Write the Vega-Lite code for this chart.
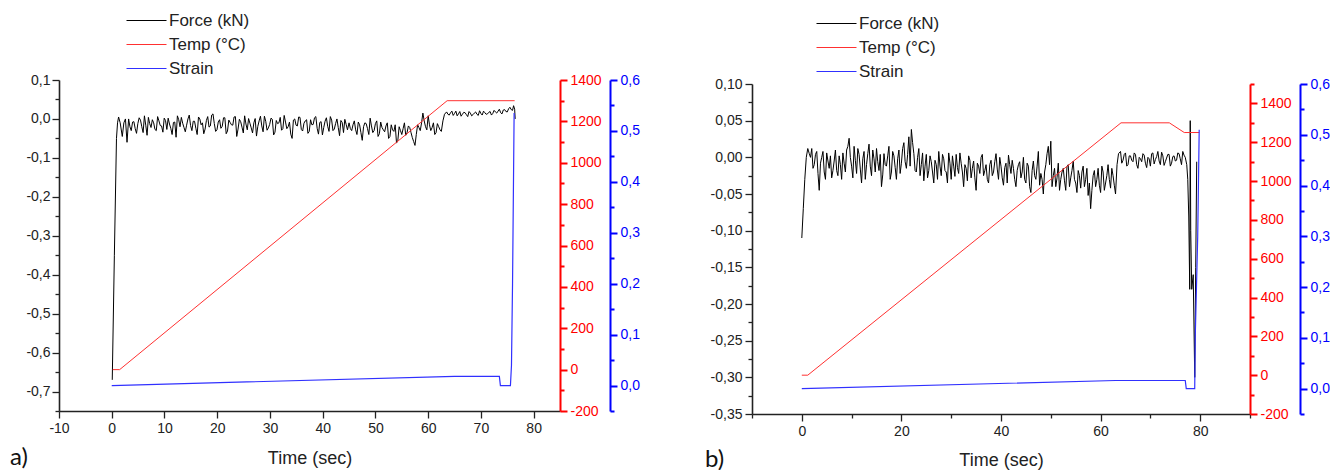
{
  "$schema": "https://vega.github.io/schema/vega-lite/v6.json",
  "background": "white",
  "padding": {"left": 10, "top": 12, "right": 0, "bottom": 0},
  "bounds": "flush",
  "spacing": 192,
  "config": {
    "view": {"stroke": null},
    "font": "Liberation Sans",
    "axis": {
      "grid": false,
      "labelFont": "Liberation Sans",
      "labelFontSize": 14,
      "labelColor": "#222222",
      "titleFont": "Liberation Sans",
      "titleFontSize": 18,
      "titleFontWeight": "normal",
      "titleColor": "#222222",
      "domainColor": "#222222",
      "tickColor": "#222222",
      "domainWidth": 1.6,
      "tickWidth": 1.3
    }
  },
  "resolve": {"scale": {"color": "independent"}, "legend": {"color": "independent"}},
  "datasets": {
    "fa": [
      {"t":0.1,"f":-0.67},{"t":0.5,"f":-0.35},{"t":0.9,"f":-0.05},{"t":1.1,"f":-0.01},{"t":1.3,"f":0.005},{"t":1.6,"f":-0.01},{"t":2.0,"f":-0.045},{"t":2.3,"f":-0.01},{"t":2.6,"f":0.0},{"t":2.9,"f":-0.06},
      {"t":3.2,"f":0.0},{"t":3.7,"f":-0.03},{"t":4.2,"f":-0.007},{"t":4.7,"f":-0.037},{"t":5.2,"f":0.003},{"t":5.7,"f":-0.02},{"t":6.2,"f":0.008},{"t":6.7,"f":-0.042},{"t":7.2,"f":-0.012},{"t":7.7,"f":-0.002},
      {"t":8.2,"f":-0.027},{"t":8.7,"f":0.006},{"t":9.2,"f":-0.017},{"t":9.7,"f":-0.034},{"t":10.2,"f":-0.004},{"t":10.7,"f":0.002},{"t":11.2,"f":-0.024},{"t":11.7,"f":-0.009},{"t":12.2,"f":-0.047},{"t":12.7,"f":-0.002},
      {"t":13.2,"f":0.004},{"t":13.7,"f":-0.022},{"t":14.2,"f":-0.016},{"t":14.7,"f":0.01},{"t":15.2,"f":-0.03},{"t":15.7,"f":-0.006},{"t":16.2,"f":-0.04},{"t":16.7,"f":0.0},{"t":17.2,"f":-0.01},{"t":17.7,"f":-0.026},
      {"t":18.2,"f":0.006},{"t":18.7,"f":-0.018},{"t":19.2,"f":0.013},{"t":19.7,"f":-0.032},{"t":20.2,"f":-0.008},{"t":20.7,"f":-0.024},{"t":21.2,"f":0.003},{"t":21.7,"f":-0.038},{"t":22.2,"f":-0.003},{"t":22.7,"f":-0.015},
      {"t":23.2,"f":0.005},{"t":23.7,"f":-0.045},{"t":24.2,"f":-0.001},{"t":24.7,"f":-0.021},{"t":25.2,"f":0.008},{"t":25.7,"f":-0.028},{"t":26.2,"f":-0.011},{"t":26.7,"f":-0.036},{"t":27.2,"f":0.001},{"t":27.7,"f":-0.019},
      {"t":28.2,"f":0.007},{"t":28.7,"f":-0.033},{"t":29.2,"f":-0.006},{"t":29.7,"f":-0.023},{"t":30.2,"f":0.002},{"t":30.7,"f":-0.041},{"t":31.2,"f":-0.004},{"t":31.7,"f":-0.01},{"t":32.2,"f":-0.029},{"t":32.7,"f":0.009},
      {"t":33.2,"f":-0.025},{"t":33.7,"f":-0.008},{"t":34.2,"f":-0.05},{"t":34.7,"f":0.0},{"t":35.2,"f":-0.018},{"t":35.7,"f":0.004},{"t":36.2,"f":-0.031},{"t":36.7,"f":-0.005},{"t":37.2,"f":-0.037},{"t":37.7,"f":-0.002},
      {"t":38.2,"f":-0.014},{"t":38.7,"f":0.006},{"t":39.2,"f":-0.039},{"t":39.7,"f":-0.007},{"t":40.2,"f":-0.022},{"t":40.7,"f":0.003},{"t":41.2,"f":-0.032},{"t":41.7,"f":-0.003},{"t":42.2,"f":-0.026},{"t":42.7,"f":0.0},
      {"t":43.2,"f":-0.043},{"t":43.7,"f":-0.009},{"t":44.2,"f":-0.001},{"t":44.7,"f":-0.028},
      {"t":45.0,"f":-0.01},{"t":45.5,"f":-0.03},{"t":46.0,"f":-0.005},{"t":46.5,"f":-0.04},{"t":47.0,"f":-0.015},{"t":47.5,"f":-0.055},{"t":48.0,"f":-0.01},{"t":48.5,"f":-0.025},{"t":49.0,"f":0.002},{"t":49.5,"f":-0.035},
      {"t":50.0,"f":-0.012},{"t":50.5,"f":-0.045},{"t":51.0,"f":-0.008},{"t":51.5,"f":-0.028},{"t":52.0,"f":-0.018},{"t":52.5,"f":-0.05},{"t":53.0,"f":-0.015},{"t":53.5,"f":-0.032},{"t":54.0,"f":-0.062},{"t":54.5,"f":-0.02},
      {"t":55.0,"f":-0.04},{"t":55.5,"f":-0.01},{"t":56.0,"f":-0.035},{"t":56.5,"f":-0.022},{"t":57.0,"f":-0.048},{"t":57.5,"f":-0.068},{"t":58.0,"f":-0.015},{"t":58.5,"f":-0.03},{"t":59.0,"f":0.015},{"t":59.5,"f":-0.02},
      {"t":60.0,"f":0.008},{"t":60.5,"f":-0.03},{"t":61.0,"f":-0.01},{"t":61.5,"f":-0.035},{"t":62.0,"f":-0.02},{"t":62.5,"f":-0.032},{"t":62.8,"f":-0.005},{"t":63.1,"f":0.012},
      {"t":63.5,"f":0.018},{"t":64.0,"f":0.01},{"t":64.5,"f":0.02},{"t":65.0,"f":0.014},{"t":65.5,"f":0.008},{"t":66.0,"f":0.019},{"t":66.5,"f":0.012},{"t":67.0,"f":0.016},{"t":67.5,"f":0.006},{"t":68.0,"f":0.015},
      {"t":68.5,"f":0.011},{"t":69.0,"f":0.018},{"t":69.5,"f":0.009},{"t":70.0,"f":0.014},{"t":70.5,"f":0.02},{"t":71.0,"f":0.012},{"t":71.5,"f":0.017},{"t":72.0,"f":0.01},{"t":72.5,"f":0.022},{"t":73.0,"f":0.015},
      {"t":73.5,"f":0.025},{"t":74.0,"f":0.013},{"t":74.5,"f":0.024},{"t":75.0,"f":0.018},{"t":75.5,"f":0.03},{"t":76.0,"f":0.022},{"t":76.2,"f":0.034},{"t":76.4,"f":0.025},{"t":76.5,"f":0.0},
      {"t":3.45,"f":-0.02},{"t":3.95,"f":-0.008},{"t":4.45,"f":-0.025},{"t":4.95,"f":-0.012},{"t":5.45,"f":-0.003},{"t":5.95,"f":-0.035},{"t":6.45,"f":-0.016},{"t":6.95,"f":0.004},{"t":7.45,"f":-0.022},{"t":7.95,"f":-0.01},
      {"t":8.45,"f":-0.03},{"t":8.95,"f":-0.005},{"t":9.45,"f":-0.018},{"t":9.95,"f":0.002},{"t":10.45,"f":-0.027},{"t":10.95,"f":-0.013},{"t":11.45,"f":-0.04},{"t":11.95,"f":-0.008},{"t":12.45,"f":0.008},{"t":12.95,"f":-0.02},
      {"t":13.45,"f":-0.011},{"t":13.95,"f":-0.033},{"t":14.45,"f":0.0},{"t":14.95,"f":-0.017},{"t":15.45,"f":-0.006},{"t":15.95,"f":-0.024},{"t":16.45,"f":0.005},{"t":16.95,"f":-0.015},{"t":17.45,"f":-0.038},{"t":17.95,"f":-0.004},
      {"t":18.45,"f":-0.021},{"t":18.95,"f":0.01},{"t":19.45,"f":-0.012},{"t":19.95,"f":-0.028},{"t":20.45,"f":-0.002},{"t":20.95,"f":-0.019},{"t":21.45,"f":0.003},{"t":21.95,"f":-0.031},{"t":22.45,"f":-0.009},{"t":22.95,"f":-0.016},
      {"t":23.45,"f":0.006},{"t":23.95,"f":-0.026},{"t":24.45,"f":-0.007},{"t":24.95,"f":-0.036},{"t":25.45,"f":-0.013},{"t":25.95,"f":0.001},{"t":26.45,"f":-0.023},{"t":26.95,"f":-0.01},{"t":27.45,"f":-0.044},{"t":27.95,"f":-0.005},
      {"t":28.45,"f":-0.018},{"t":28.95,"f":0.007},{"t":29.45,"f":-0.029},{"t":29.95,"f":-0.014},{"t":30.45,"f":-0.001},{"t":30.95,"f":-0.034},{"t":31.45,"f":-0.012},{"t":31.95,"f":0.004},{"t":32.45,"f":-0.025},{"t":32.95,"f":-0.008},
      {"t":33.45,"f":-0.02},{"t":33.95,"f":-0.039},{"t":34.45,"f":-0.003},{"t":34.95,"f":-0.016},{"t":35.45,"f":0.005},{"t":35.95,"f":-0.027},{"t":36.45,"f":-0.011},{"t":36.95,"f":-0.002},{"t":37.45,"f":-0.032},{"t":37.95,"f":-0.015},
      {"t":38.45,"f":0.003},{"t":38.95,"f":-0.024},{"t":39.45,"f":-0.009},{"t":39.95,"f":-0.041},{"t":40.45,"f":-0.006},{"t":40.95,"f":-0.019},{"t":41.45,"f":0.006},{"t":41.95,"f":-0.03},{"t":42.45,"f":-0.012},{"t":42.95,"f":-0.022},
      {"t":43.45,"f":-0.004},{"t":43.95,"f":-0.035},{"t":44.45,"f":-0.014},
      {"t":45.25,"f":-0.025},{"t":45.75,"f":-0.015},{"t":46.25,"f":-0.028},{"t":46.75,"f":-0.008},{"t":47.25,"f":-0.035},{"t":47.75,"f":-0.02},{"t":48.25,"f":-0.012},{"t":48.75,"f":-0.04},{"t":49.25,"f":-0.018},{"t":49.75,"f":-0.03},
      {"t":50.25,"f":-0.005},{"t":50.75,"f":-0.038},{"t":51.25,"f":-0.022},{"t":51.75,"f":-0.033},{"t":52.25,"f":-0.01},{"t":52.75,"f":-0.045},{"t":53.25,"f":-0.028},{"t":53.75,"f":-0.015},{"t":54.25,"f":-0.055},{"t":54.75,"f":-0.03},
      {"t":55.25,"f":-0.025},{"t":55.75,"f":-0.042},{"t":56.25,"f":-0.018},{"t":56.75,"f":-0.035},{"t":57.25,"f":-0.058},{"t":57.75,"f":-0.04},{"t":58.25,"f":-0.022},{"t":58.75,"f":-0.01},{"t":59.25,"f":-0.005},{"t":59.75,"f":-0.028},
      {"t":60.25,"f":-0.015},{"t":60.75,"f":-0.022},{"t":61.25,"f":-0.04},{"t":61.75,"f":-0.012},{"t":62.25,"f":-0.028},
      {"t":63.75,"f":0.012},{"t":64.25,"f":0.016},{"t":64.75,"f":0.009},{"t":65.25,"f":0.02},{"t":65.75,"f":0.013},{"t":66.25,"f":0.007},{"t":66.75,"f":0.017},{"t":67.25,"f":0.011},{"t":67.75,"f":0.019},{"t":68.25,"f":0.008},
      {"t":68.75,"f":0.015},{"t":69.25,"f":0.012},{"t":69.75,"f":0.021},{"t":70.25,"f":0.01},{"t":70.75,"f":0.016},{"t":71.25,"f":0.013},{"t":71.75,"f":0.019},{"t":72.25,"f":0.014},{"t":72.75,"f":0.018},{"t":73.25,"f":0.02},
      {"t":73.75,"f":0.016},{"t":74.25,"f":0.023},{"t":74.75,"f":0.019},{"t":75.25,"f":0.026},{"t":75.75,"f":0.024}
    ],
    "ta": [{"t":0.2,"v":0},{"t":1.5,"v":0},{"t":63.6,"v":1300},{"t":76.4,"v":1300}],
    "sa": [{"t":0,"v":0},{"t":65,"v":0.018},{"t":73.5,"v":0.018},{"t":73.7,"v":0.0},{"t":75.6,"v":0.0},{"t":75.8,"v":0.04},{"t":76.0,"v":0.2},{"t":76.3,"v":0.535}],
    "fb": [
      {"t":0,"f":-0.11},{"t":0.3,"f":-0.07},{"t":0.6,"f":-0.03},{"t":0.9,"f":0.0},{"t":1.2,"f":0.012},{"t":1.5,"f":0.005},{"t":2.0,"f":0.012},{"t":2.5,"f":-0.01},{"t":3.0,"f":0.008},{"t":3.5,"f":-0.045},
      {"t":4.0,"f":0.0},{"t":4.5,"f":-0.02},{"t":5.0,"f":0.006},{"t":5.5,"f":-0.015},{"t":6.0,"f":-0.028},{"t":6.5,"f":-0.005},{"t":7.0,"f":-0.018},{"t":7.5,"f":0.002},{"t":8.0,"f":-0.03},{"t":8.5,"f":-0.008},
      {"t":9.0,"f":0.01},{"t":9.5,"f":0.026},{"t":10.0,"f":-0.012},{"t":10.5,"f":0.015},{"t":11.0,"f":-0.022},{"t":11.5,"f":0.004},{"t":12.0,"f":-0.035},{"t":12.5,"f":0.008},{"t":13.0,"f":-0.01},{"t":13.5,"f":0.018},
      {"t":14.0,"f":-0.025},{"t":14.5,"f":-0.002},{"t":15.0,"f":0.012},{"t":15.5,"f":-0.018},{"t":16.0,"f":-0.04},{"t":16.5,"f":0.005},{"t":17.0,"f":-0.012},{"t":17.5,"f":0.015},{"t":18.0,"f":-0.02},{"t":18.5,"f":0.002},
      {"t":19.0,"f":-0.03},{"t":19.5,"f":0.01},{"t":20.0,"f":-0.008},{"t":20.5,"f":0.02},{"t":21.0,"f":-0.015},{"t":21.5,"f":0.028},{"t":22.0,"f":0.038},{"t":22.5,"f":0.005},{"t":23.0,"f":-0.02},{"t":23.5,"f":0.012},
      {"t":24.0,"f":-0.01},{"t":24.5,"f":-0.032},{"t":25.0,"f":0.004},{"t":25.5,"f":-0.018},{"t":26.0,"f":-0.006},{"t":26.5,"f":-0.035},{"t":27.0,"f":-0.01},{"t":27.5,"f":0.008},{"t":28.0,"f":-0.025},{"t":28.5,"f":-0.002},
      {"t":29.0,"f":-0.02},{"t":29.5,"f":0.006},{"t":30.0,"f":-0.03},{"t":30.5,"f":-0.012},{"t":31.0,"f":0.004},{"t":31.5,"f":-0.022},{"t":32.0,"f":-0.008},{"t":32.5,"f":-0.04},{"t":33.0,"f":-0.015},{"t":33.5,"f":0.002},
      {"t":34.0,"f":-0.028},{"t":34.5,"f":-0.005},{"t":35.0,"f":-0.045},{"t":35.5,"f":-0.012},{"t":36.0,"f":0.0},{"t":36.5,"f":-0.025},{"t":37.0,"f":-0.01},{"t":37.5,"f":-0.035},{"t":38.0,"f":-0.004},{"t":38.5,"f":-0.02},
      {"t":39.0,"f":0.005},{"t":39.5,"f":-0.03},{"t":40.0,"f":-0.012},{"t":40.5,"f":-0.038},{"t":41.0,"f":-0.008},{"t":41.5,"f":0.003},{"t":42.0,"f":-0.022},{"t":42.5,"f":-0.015},{"t":43.0,"f":-0.04},{"t":43.5,"f":-0.01},
      {"t":44.0,"f":-0.028},{"t":44.5,"f":0.0},{"t":45.0,"f":-0.035},{"t":45.5,"f":-0.012},{"t":46.0,"f":-0.048},{"t":46.5,"f":-0.005},{"t":47.0,"f":-0.03},{"t":47.5,"f":0.008},{"t":48.0,"f":-0.022},{"t":48.5,"f":-0.05},
      {"t":49.0,"f":-0.01},{"t":49.5,"f":0.015},{"t":50.0,"f":0.022},{"t":50.5,"f":-0.025},{"t":51.0,"f":-0.04},{"t":51.5,"f":-0.008},{"t":52.0,"f":-0.03},{"t":52.5,"f":-0.015},{"t":53.0,"f":-0.045},{"t":53.5,"f":-0.01},
      {"t":54.0,"f":-0.028},{"t":54.5,"f":-0.005},{"t":55.0,"f":-0.035},{"t":55.5,"f":-0.018},{"t":56.0,"f":-0.042},{"t":56.5,"f":-0.012},{"t":57.0,"f":-0.03},{"t":57.5,"f":-0.052},{"t":58.0,"f":-0.07},{"t":58.5,"f":-0.025},
      {"t":59.0,"f":-0.04},{"t":59.5,"f":-0.015},{"t":60.0,"f":-0.048},{"t":60.5,"f":-0.02},{"t":61.0,"f":-0.035},{"t":61.5,"f":-0.01},{"t":62.0,"f":-0.042},{"t":62.5,"f":-0.025},{"t":63.0,"f":-0.05},{"t":63.3,"f":-0.01},
      {"t":63.6,"f":0.005},{"t":64.0,"f":0.008},{"t":64.5,"f":-0.004},{"t":65.0,"f":0.006},{"t":65.5,"f":-0.01},{"t":66.0,"f":0.002},{"t":66.5,"f":-0.006},{"t":67.0,"f":0.004},{"t":67.5,"f":-0.015},{"t":68.0,"f":-0.002},
      {"t":68.5,"f":0.005},{"t":69.0,"f":-0.008},{"t":69.5,"f":0.0},{"t":70.0,"f":-0.012},{"t":70.5,"f":0.006},{"t":71.0,"f":-0.003},{"t":71.5,"f":0.008},{"t":72.0,"f":-0.01},{"t":72.5,"f":0.002},{"t":73.0,"f":-0.006},
      {"t":73.5,"f":0.004},{"t":74.0,"f":-0.012},{"t":74.5,"f":0.001},{"t":75.0,"f":-0.005},{"t":75.5,"f":0.006},{"t":76.0,"f":-0.002},{"t":76.5,"f":0.008},{"t":77.0,"f":0.0},{"t":77.3,"f":-0.01},{"t":77.5,"f":-0.03},
      {"t":77.7,"f":-0.08},{"t":77.9,"f":-0.18},{"t":78.0,"f":0.05},{"t":78.1,"f":-0.1},{"t":78.3,"f":-0.18},{"t":78.6,"f":-0.16},{"t":78.9,"f":-0.3},{"t":79.1,"f":-0.15},{"t":79.3,"f":-0.006},
      {"t":1.75,"f":0.0},{"t":2.25,"f":-0.015},{"t":2.75,"f":0.004},{"t":3.25,"f":-0.022},{"t":3.75,"f":-0.008},{"t":4.25,"f":0.008},{"t":4.75,"f":-0.03},{"t":5.25,"f":-0.005},{"t":5.75,"f":0.002},{"t":6.25,"f":-0.018},
      {"t":6.75,"f":0.01},{"t":7.25,"f":-0.025},{"t":7.75,"f":-0.01},{"t":8.25,"f":0.006},{"t":8.75,"f":-0.02},{"t":9.25,"f":0.015},{"t":9.75,"f":0.0},{"t":10.25,"f":-0.028},{"t":10.75,"f":-0.004},{"t":11.25,"f":0.012},
      {"t":11.75,"f":-0.016},{"t":12.25,"f":-0.002},{"t":12.75,"f":-0.03},{"t":13.25,"f":0.005},{"t":13.75,"f":-0.012},{"t":14.25,"f":0.01},{"t":14.75,"f":-0.02},{"t":15.25,"f":-0.006},{"t":15.75,"f":0.004},{"t":16.25,"f":-0.024},
      {"t":16.75,"f":-0.01},{"t":17.25,"f":0.002},{"t":17.75,"f":-0.03},{"t":18.25,"f":0.008},{"t":18.75,"f":-0.014},{"t":19.25,"f":-0.002},{"t":19.75,"f":-0.022},{"t":20.25,"f":0.012},{"t":20.75,"f":-0.006},{"t":21.25,"f":0.004},
      {"t":21.75,"f":-0.012},{"t":22.25,"f":0.02},{"t":22.75,"f":-0.018},{"t":23.25,"f":0.0},{"t":23.75,"f":-0.025},{"t":24.25,"f":0.006},{"t":24.75,"f":-0.012},{"t":25.25,"f":-0.028},{"t":25.75,"f":0.002},{"t":26.25,"f":-0.02},
      {"t":26.75,"f":-0.004},{"t":27.25,"f":-0.03},{"t":27.75,"f":-0.012},{"t":28.25,"f":0.004},{"t":28.75,"f":-0.018},{"t":29.25,"f":-0.035},{"t":29.75,"f":-0.008},{"t":30.25,"f":0.002},{"t":30.75,"f":-0.026},{"t":31.25,"f":-0.014},
      {"t":31.75,"f":0.006},{"t":32.25,"f":-0.02},{"t":32.75,"f":-0.01},{"t":33.25,"f":-0.032},{"t":33.75,"f":-0.004},{"t":34.25,"f":-0.015},{"t":34.75,"f":-0.028},{"t":35.25,"f":-0.008},{"t":35.75,"f":-0.022},{"t":36.25,"f":0.004},
      {"t":36.75,"f":-0.018},{"t":37.25,"f":-0.03},{"t":37.75,"f":-0.01},{"t":38.25,"f":-0.025},{"t":38.75,"f":-0.006},{"t":39.25,"f":-0.016},{"t":39.75,"f":0.0},{"t":40.25,"f":-0.028},{"t":40.75,"f":-0.014},{"t":41.25,"f":-0.035},
      {"t":41.75,"f":-0.01},{"t":42.25,"f":-0.004},{"t":42.75,"f":-0.03},{"t":43.25,"f":-0.018},{"t":43.75,"f":-0.006},
      {"t":44.25,"f":-0.02},{"t":44.75,"f":-0.03},{"t":45.25,"f":-0.008},{"t":45.75,"f":-0.04},{"t":46.25,"f":-0.018},{"t":46.75,"f":-0.025},{"t":47.25,"f":-0.012},{"t":47.75,"f":-0.038},{"t":48.25,"f":-0.03},{"t":48.75,"f":-0.02},
      {"t":49.25,"f":0.005},{"t":49.75,"f":-0.01},{"t":50.25,"f":-0.04},{"t":50.75,"f":-0.015},{"t":51.25,"f":-0.028},{"t":51.75,"f":-0.045},{"t":52.25,"f":-0.02},{"t":52.75,"f":-0.032},{"t":53.25,"f":-0.012},{"t":53.75,"f":-0.04},
      {"t":54.25,"f":-0.018},{"t":54.75,"f":-0.03},{"t":55.25,"f":-0.048},{"t":55.75,"f":-0.025},{"t":56.25,"f":-0.02},{"t":56.75,"f":-0.04},{"t":57.25,"f":-0.015},{"t":57.75,"f":-0.035},{"t":58.25,"f":-0.045},{"t":58.75,"f":-0.018},
      {"t":59.25,"f":-0.03},{"t":59.75,"f":-0.038},{"t":60.25,"f":-0.012},{"t":60.75,"f":-0.045},{"t":61.25,"f":-0.025},{"t":61.75,"f":-0.03},{"t":62.25,"f":-0.015},{"t":62.75,"f":-0.038},
      {"t":64.25,"f":-0.008},{"t":64.75,"f":0.004},{"t":65.25,"f":-0.012},{"t":65.75,"f":0.002},{"t":66.25,"f":-0.004},{"t":66.75,"f":0.006},{"t":67.25,"f":-0.01},{"t":67.75,"f":0.0},{"t":68.25,"f":-0.006},{"t":68.75,"f":0.003},
      {"t":69.25,"f":-0.014},{"t":69.75,"f":-0.002},{"t":70.25,"f":0.005},{"t":70.75,"f":-0.009},{"t":71.25,"f":0.001},{"t":71.75,"f":-0.005},{"t":72.25,"f":0.007},{"t":72.75,"f":-0.011},{"t":73.25,"f":-0.001},{"t":73.75,"f":0.004},
      {"t":74.25,"f":-0.008},{"t":74.75,"f":0.002},{"t":75.25,"f":-0.004},{"t":75.75,"f":0.005},{"t":76.25,"f":-0.01},{"t":76.75,"f":0.003}
    ],
    "tb": [{"t":0,"v":0},{"t":1.2,"v":0},{"t":64.1,"v":1300},{"t":73.8,"v":1300},{"t":76.8,"v":1250},{"t":79.8,"v":1250}],
    "sb": [{"t":0,"v":0},{"t":63,"v":0.016},{"t":77.0,"v":0.016},{"t":77.2,"v":0.0},{"t":78.9,"v":0.0},{"t":79.0,"v":0.1},{"t":79.5,"v":0.3},{"t":79.8,"v":0.51}]
  },
  "hconcat": [
    {
      "width": 501,
      "height": 331,
      "title": {"text": "a)", "orient": "bottom", "anchor": "start", "frame": "group", "font": "Lato", "fontSize": 24, "fontWeight": "normal", "color": "#111111", "dx": -49, "offset": -21},
      "resolve": {"scale": {"y": "independent"}},
      "layer": [
        {
          "data": {"name": "fa"},
          "mark": {"type": "line", "strokeWidth": 1},
          "encoding": {
            "x": {"field": "t", "type": "quantitative",
              "scale": {"domain": [-10, 85], "nice": false, "zero": false},
              "axis": {"title": "Time (sec)", "values": [-10,-5,0,5,10,15,20,25,30,35,40,45,50,55,60,65,70,75,80],
                "labelExpr": "datum.value % 10 === 0 ? '' + datum.value : ''",
                "tickSize": {"condition": {"test": "datum.value % 10 === 0", "value": 7}, "value": 4},
                "labelPadding": 3, "titlePadding": 14, "labelFlush": false}},
            "y": {"field": "f", "type": "quantitative",
              "scale": {"domain": [-0.75, 0.1], "nice": false, "zero": false},
              "axis": {"orient": "left", "title": null,
                "values": [-0.75,-0.7,-0.65,-0.6,-0.55,-0.5,-0.45,-0.4,-0.35,-0.3,-0.25,-0.2,-0.15,-0.1,-0.05,0,0.05,0.1],
                "labelExpr": "abs(round(datum.value*100)) % 10 === 0 ? replace(replace(format(datum.value, '.1f'), '.', ','), '\u2212', '-') : ''",
                "tickSize": {"condition": {"test": "abs(round(datum.value*100)) % 10 === 0", "value": 7}, "value": 4},
                "labelPadding": 2, "labelFlush": false}},
            "color": {"datum": "Force (kN)",
              "scale": {"domain": ["Force (kN)", "Temp (°C)", "Strain"], "range": ["#000000", "#ff3030", "#3030ff"]},
              "legend": {"orient": "none", "legendX": 79, "legendY": -68, "title": null, "padding": 0,
                "symbolType": "M-4,0H4", "symbolSize": 100, "symbolStrokeWidth": 1,
                "labelFont": "Liberation Sans", "labelFontSize": 17, "labelColor": "#222222", "labelOffset": 14, "rowPadding": 6}}
          }
        },
        {
          "data": {"name": "ta"},
          "mark": {"type": "line", "strokeWidth": 1},
          "encoding": {
            "x": {"field": "t", "type": "quantitative"},
            "y": {"field": "v", "type": "quantitative",
              "scale": {"domain": [-200, 1400], "nice": false, "zero": false},
              "axis": {"orient": "right", "offset": 0, "title": null,
                "values": [-200,-100,0,100,200,300,400,500,600,700,800,900,1000,1100,1200,1300,1400],
                "labelExpr": "datum.value % 200 === 0 ? '' + datum.value : ''",
                "tickSize": {"condition": {"test": "datum.value % 200 === 0", "value": 7}, "value": 4},
                "domainColor": "#ff0000", "tickColor": "#ff0000", "labelColor": "#ff0000", "domainWidth": 2, "tickWidth": 2,
                "labelPadding": 3, "labelFlush": false}},
            "color": {"datum": "Temp (°C)"}
          }
        },
        {
          "data": {"name": "sa"},
          "mark": {"type": "line", "strokeWidth": 1.2},
          "encoding": {
            "x": {"field": "t", "type": "quantitative"},
            "y": {"field": "v", "type": "quantitative",
              "scale": {"domain": [-0.05, 0.6], "nice": false, "zero": false},
              "axis": {"orient": "right", "offset": 50, "title": null,
                "values": [-0.05,0,0.05,0.1,0.15,0.2,0.25,0.3,0.35,0.4,0.45,0.5,0.55,0.6],
                "labelExpr": "abs(round(datum.value*100)) % 10 === 0 ? replace(format(datum.value, '.1f'), '.', ',') : ''",
                "tickSize": {"condition": {"test": "abs(round(datum.value*100)) % 10 === 0", "value": 7}, "value": 4},
                "domainColor": "#0000ff", "tickColor": "#0000ff", "labelColor": "#0000ff", "domainWidth": 2, "tickWidth": 2,
                "labelPadding": 3, "labelFlush": false}},
            "color": {"datum": "Strain"}
          }
        }
      ]
    },
    {
      "width": 498,
      "height": 334,
      "title": {"text": "b)", "orient": "bottom", "anchor": "start", "frame": "group", "font": "Lato", "fontSize": 24, "fontWeight": "normal", "color": "#111111", "dx": -47, "offset": -21},
      "resolve": {"scale": {"y": "independent"}},
      "layer": [
        {
          "data": {"name": "fb"},
          "mark": {"type": "line", "strokeWidth": 1},
          "encoding": {
            "x": {"field": "t", "type": "quantitative",
              "scale": {"domain": [-10, 90], "nice": false, "zero": false},
              "axis": {"title": "Time (sec)", "values": [-10,0,10,20,30,40,50,60,70,80,90],
                "labelExpr": "datum.value % 20 === 0 ? '' + datum.value : ''",
                "tickSize": {"condition": {"test": "datum.value % 20 === 0", "value": 7}, "value": 4},
                "labelPadding": 3, "titlePadding": 13, "labelFlush": false}},
            "y": {"field": "f", "type": "quantitative",
              "scale": {"domain": [-0.35, 0.1], "nice": false, "zero": false, "range": [334, 4]},
              "axis": {"orient": "left", "title": null,
                "values": [-0.35,-0.325,-0.3,-0.275,-0.25,-0.225,-0.2,-0.175,-0.15,-0.125,-0.1,-0.075,-0.05,-0.025,0,0.025,0.05,0.075,0.1],
                "labelExpr": "abs(round(datum.value*1000)) % 50 === 0 ? replace(replace(format(datum.value, '.2f'), '.', ','), '\u2212', '-') : ''",
                "tickSize": {"condition": {"test": "abs(round(datum.value*1000)) % 50 === 0", "value": 7}, "value": 4},
                "labelPadding": 3, "labelFlush": false}},
            "color": {"datum": "Force (kN)",
              "scale": {"domain": ["Force (kN)", "Temp (°C)", "Strain"], "range": ["#000000", "#ff3030", "#3030ff"]},
              "legend": {"orient": "none", "legendX": 76, "legendY": -65, "title": null, "padding": 0,
                "symbolType": "M-4,0H4", "symbolSize": 100, "symbolStrokeWidth": 1,
                "labelFont": "Liberation Sans", "labelFontSize": 17, "labelColor": "#222222", "labelOffset": 14, "rowPadding": 6}}
          }
        },
        {
          "data": {"name": "tb"},
          "mark": {"type": "line", "strokeWidth": 1},
          "encoding": {
            "x": {"field": "t", "type": "quantitative"},
            "y": {"field": "v", "type": "quantitative",
              "scale": {"domain": [-200, 1500], "nice": false, "zero": false, "range": [334, 4]},
              "axis": {"orient": "right", "offset": 0, "title": null,
                "values": [-200,-100,0,100,200,300,400,500,600,700,800,900,1000,1100,1200,1300,1400,1500],
                "labelExpr": "datum.value % 200 === 0 ? '' + datum.value : ''",
                "tickSize": {"condition": {"test": "datum.value % 200 === 0", "value": 7}, "value": 4},
                "domainColor": "#ff0000", "tickColor": "#ff0000", "labelColor": "#ff0000", "domainWidth": 2, "tickWidth": 2,
                "labelPadding": 3, "labelFlush": false}},
            "color": {"datum": "Temp (°C)"}
          }
        },
        {
          "data": {"name": "sb"},
          "mark": {"type": "line", "strokeWidth": 1.2},
          "encoding": {
            "x": {"field": "t", "type": "quantitative"},
            "y": {"field": "v", "type": "quantitative",
              "scale": {"domain": [-0.05, 0.6], "nice": false, "zero": false, "range": [334, 4]},
              "axis": {"orient": "right", "offset": 50, "title": null,
                "values": [-0.05,0,0.05,0.1,0.15,0.2,0.25,0.3,0.35,0.4,0.45,0.5,0.55,0.6],
                "labelExpr": "abs(round(datum.value*100)) % 10 === 0 ? replace(format(datum.value, '.1f'), '.', ',') : ''",
                "tickSize": {"condition": {"test": "abs(round(datum.value*100)) % 10 === 0", "value": 7}, "value": 4},
                "domainColor": "#0000ff", "tickColor": "#0000ff", "labelColor": "#0000ff", "domainWidth": 2, "tickWidth": 2,
                "labelPadding": 3, "labelFlush": false}},
            "color": {"datum": "Strain"}
          }
        }
      ]
    }
  ]
}
